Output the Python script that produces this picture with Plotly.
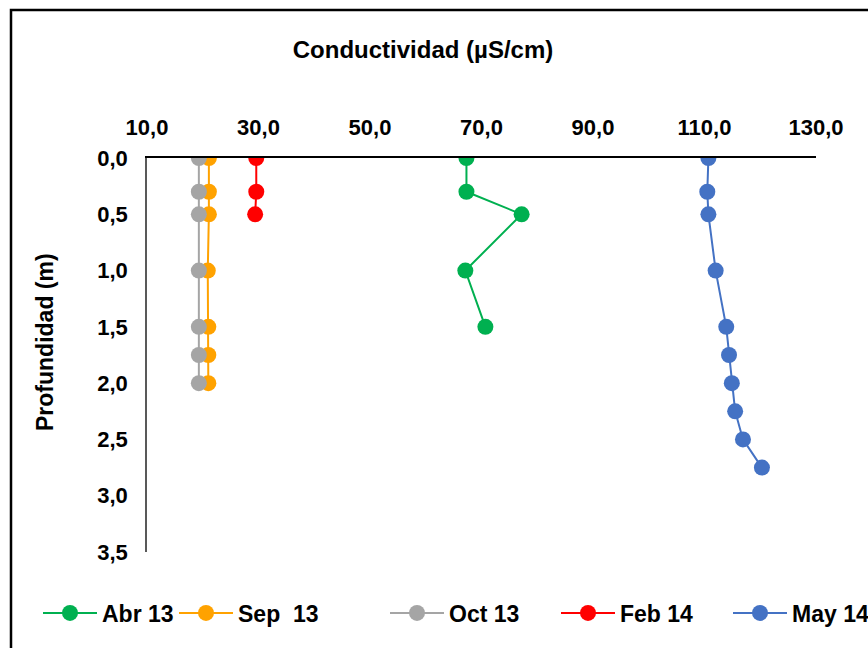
import plotly.graph_objects as go

# Data
abr_depth = [0.0, 0.3, 0.5, 1.0, 1.5]
abr_cond = [67.3, 67.3, 77.2, 67.1, 70.7]

sep_depth = [0.0, 0.3, 0.5, 1.0, 1.5, 1.75, 2.0]
sep_cond = [21.1, 21.1, 21.1, 20.9, 21.0, 21.0, 21.0]

oct_depth = [0.0, 0.3, 0.5, 1.0, 1.5, 1.75, 2.0]
oct_cond = [19.3, 19.3, 19.3, 19.3, 19.3, 19.3, 19.3]

feb_depth = [0.0, 0.3, 0.5]
feb_cond = [29.6, 29.6, 29.4]

may_depth = [0.0, 0.3, 0.5, 1.0, 1.5, 1.75, 2.0, 2.25, 2.5, 2.75]
may_cond = [110.7, 110.5, 110.7, 112.0, 113.9, 114.4, 114.9, 115.5, 116.9, 120.3]

series = [
    ("Abr 13", abr_cond, abr_depth, "#00B050", "legend"),
    ("Sep\u00a0\u00a013", sep_cond, sep_depth, "#FFA200", "legend2"),
    ("Oct 13", oct_cond, oct_depth, "#A5A5A5", "legend3"),
    ("Feb 14", feb_cond, feb_depth, "#FF0000", "legend4"),
    ("May 14", may_cond, may_depth, "#4472C4", "legend5"),
]

FONT = "Liberation Sans, Arial, sans-serif"

fig = go.Figure()
for name, xs, ys, color, lg in series:
    fig.add_trace(go.Scatter(
        x=xs, y=ys, name=name, mode="lines+markers",
        line=dict(color=color, width=2),
        marker=dict(color=color, size=16),
        legend=lg,
    ))

W, H = 868, 648
L, R, T, B = 147, 52, 158, 96
pw = W - L - R
ph = H - T - B

def px_x(p):
    return (p - L) / pw

def px_y(p):
    return (H - B - p) / ph

text_starts = [45, 181, 392, 563, 735]
legend_common = dict(
    orientation="h", yanchor="middle", xanchor="left",
    font=dict(family=FONT, size=23, color="black", weight="bold"),
    bgcolor="rgba(0,0,0,0)", itemwidth=54,
)
layout_legends = {}
for i, xs in enumerate(text_starts):
    key = "legend" if i == 0 else f"legend{i+1}"
    layout_legends[key] = dict(legend_common, x=px_x(xs - 7), y=px_y(613))

fig.update_layout(
    width=W, height=H,
    margin=dict(l=L, r=R, t=T, b=B, autoexpand=False),
    paper_bgcolor="white", plot_bgcolor="white",
    separators=",.",
    showlegend=True,
    title=dict(
        text="<b>Conductividad (µS/cm)</b>",
        x=423 / W, xref="container", xanchor="center",
        y=1 - 50 / H, yref="container", yanchor="middle",
        font=dict(family=FONT, size=24, color="black"),
    ),
    xaxis=dict(
        side="top", range=[10, 130], tickmode="linear", tick0=10, dtick=20,
        tickformat=".1f", showgrid=False, zeroline=False,
        showline=True, linecolor="black", linewidth=1.5,
        ticks="", ticklabelstandoff=12,
        tickfont=dict(family=FONT, size=22, color="black", weight="bold"),
    ),
    yaxis=dict(
        range=[3.5, 0], tickmode="linear", tick0=0, dtick=0.5,
        tickformat=".1f", showgrid=False, zeroline=False,
        showline=True, linecolor="#595959", linewidth=1.5,
        ticks="", ticklabelstandoff=13,
        tickfont=dict(family=FONT, size=22, color="black", weight="bold"),
    ),
    annotations=[dict(
        text="<b>Profundidad (m)</b>", textangle=-90,
        x=px_x(45), y=px_y(342), xref="paper", yref="paper",
        xanchor="center", yanchor="middle", showarrow=False,
        font=dict(family=FONT, size=23, color="black"),
    )],
    shapes=[dict(
        type="rect", xref="paper", yref="paper",
        x0=px_x(11), y0=px_y(10), x1=px_x(W + 20), y1=px_y(H + 20),
        line=dict(color="black", width=2.5), fillcolor="rgba(0,0,0,0)",
        layer="below",
    )],
    **layout_legends,
)

fig.write_html("out.html")
